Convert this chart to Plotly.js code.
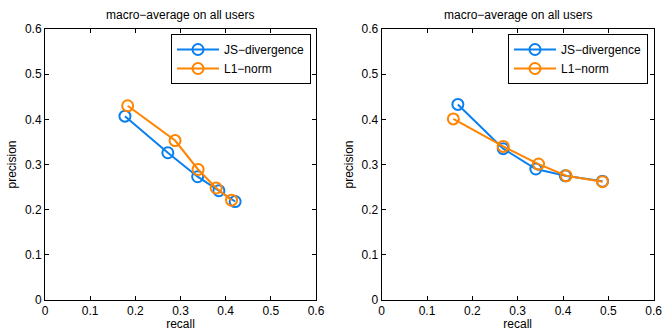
<!DOCTYPE html>
<html><head><meta charset="utf-8">
<script src="https://cdn.plot.ly/plotly-3.0.1.min.js"></script>
<style>html,body{margin:0;padding:0;background:#fff}#c{width:662px;height:331px}</style>
</head><body><div id="c"></div>
<script>
// Left panel
const leftJSRecall = [0.177, 0.272, 0.338, 0.385, 0.421];
const leftJSPrecision = [0.407, 0.326, 0.273, 0.242, 0.218];
const leftL1Recall = [0.183, 0.288, 0.339, 0.379, 0.413];
const leftL1Precision = [0.430, 0.353, 0.289, 0.248, 0.221];
// Right panel
const rightJSRecall = [0.168, 0.268, 0.340, 0.405, 0.487];
const rightJSPrecision = [0.433, 0.335, 0.290, 0.275, 0.263];
const rightL1Recall = [0.158, 0.268, 0.346, 0.407, 0.487];
const rightL1Precision = [0.401, 0.340, 0.301, 0.275, 0.262];

const tickVals = [0, 0.1, 0.2, 0.3, 0.4, 0.5, 0.6];
const tickText = ['0', '0.1', '0.2', '0.3', '0.4', '0.5', '0.6'];
const seriesNames = ['JS\u2212divergence', 'L1\u2212norm'];
const titleText = 'macro\u2212average on all users';

const blue = '#0a80f0', orange = '#ff8400';
function tr(x, y, name, color, xa, ya, legend) {
  return {x, y, name, type: 'scatter', mode: 'lines+markers', xaxis: xa, yaxis: ya, legend,
    line: {color, width: 2},
    marker: {symbol: 'circle-open', size: 11, color, line: {color, width: 2}}};
}
const data = [
  tr(leftJSRecall, leftJSPrecision, seriesNames[0], blue, 'x', 'y', 'legend'),
  tr(leftL1Recall, leftL1Precision, seriesNames[1], orange, 'x', 'y', 'legend'),
  tr(rightJSRecall, rightJSPrecision, seriesNames[0], blue, 'x2', 'y2', 'legend2'),
  tr(rightL1Recall, rightL1Precision, seriesNames[1], orange, 'x2', 'y2', 'legend2')
];
const font = {family: 'Liberation Sans, Arial, sans-serif', size: 12, color: '#000'};
function ax(domain, anchor, titleTxt, standoff) {
  return {domain, anchor, range: [0, 0.6], tickvals: tickVals, ticktext: tickText,
    ticks: 'inside', ticklen: 4, tickcolor: '#000', mirror: 'ticks', showline: true,
    linecolor: '#000', linewidth: 1, showgrid: false, zeroline: false,
    ticklabeloverflow: 'allow',
    tickfont: font, title: {text: titleTxt, font: font, standoff: standoff}};
}
const yd = [1 - 300/331, 1 - 29/331];
function leg(xr) {
  return {x: xr/662, xanchor: 'right', y: 1 - 34/331, yanchor: 'top',
    bordercolor: '#000', borderwidth: 1, bgcolor: '#fff', font: font,
    tracegroupgap: 0, itemwidth: 42};
}
const layout = {
  width: 662, height: 331, margin: {l: 0, r: 0, t: 0, b: 0},
  paper_bgcolor: '#fff', plot_bgcolor: '#fff', font: font,
  xaxis: ax([45/662, 316/662], 'y', 'recall', 3),
  yaxis: ax(yd, 'x', 'precision', 5),
  xaxis2: ax([381.7/662, 653.7/662], 'y2', 'recall', 3),
  yaxis2: ax(yd, 'x2', 'precision', 5),
  legend: leg(311),
  legend2: leg(648),
  annotations: [
    {text: titleText, xref: 'paper', yref: 'paper', x: (45+316)/2/662, y: 1 - 15/331,
      xanchor: 'center', yanchor: 'middle', showarrow: false, font: font},
    {text: titleText, xref: 'paper', yref: 'paper', x: (381.7+653.7)/2/662, y: 1 - 15/331,
      xanchor: 'center', yanchor: 'middle', showarrow: false, font: font}
  ],
  showlegend: true
};
Plotly.newPlot('c', data, layout, {staticPlot: true});
</script></body></html>
